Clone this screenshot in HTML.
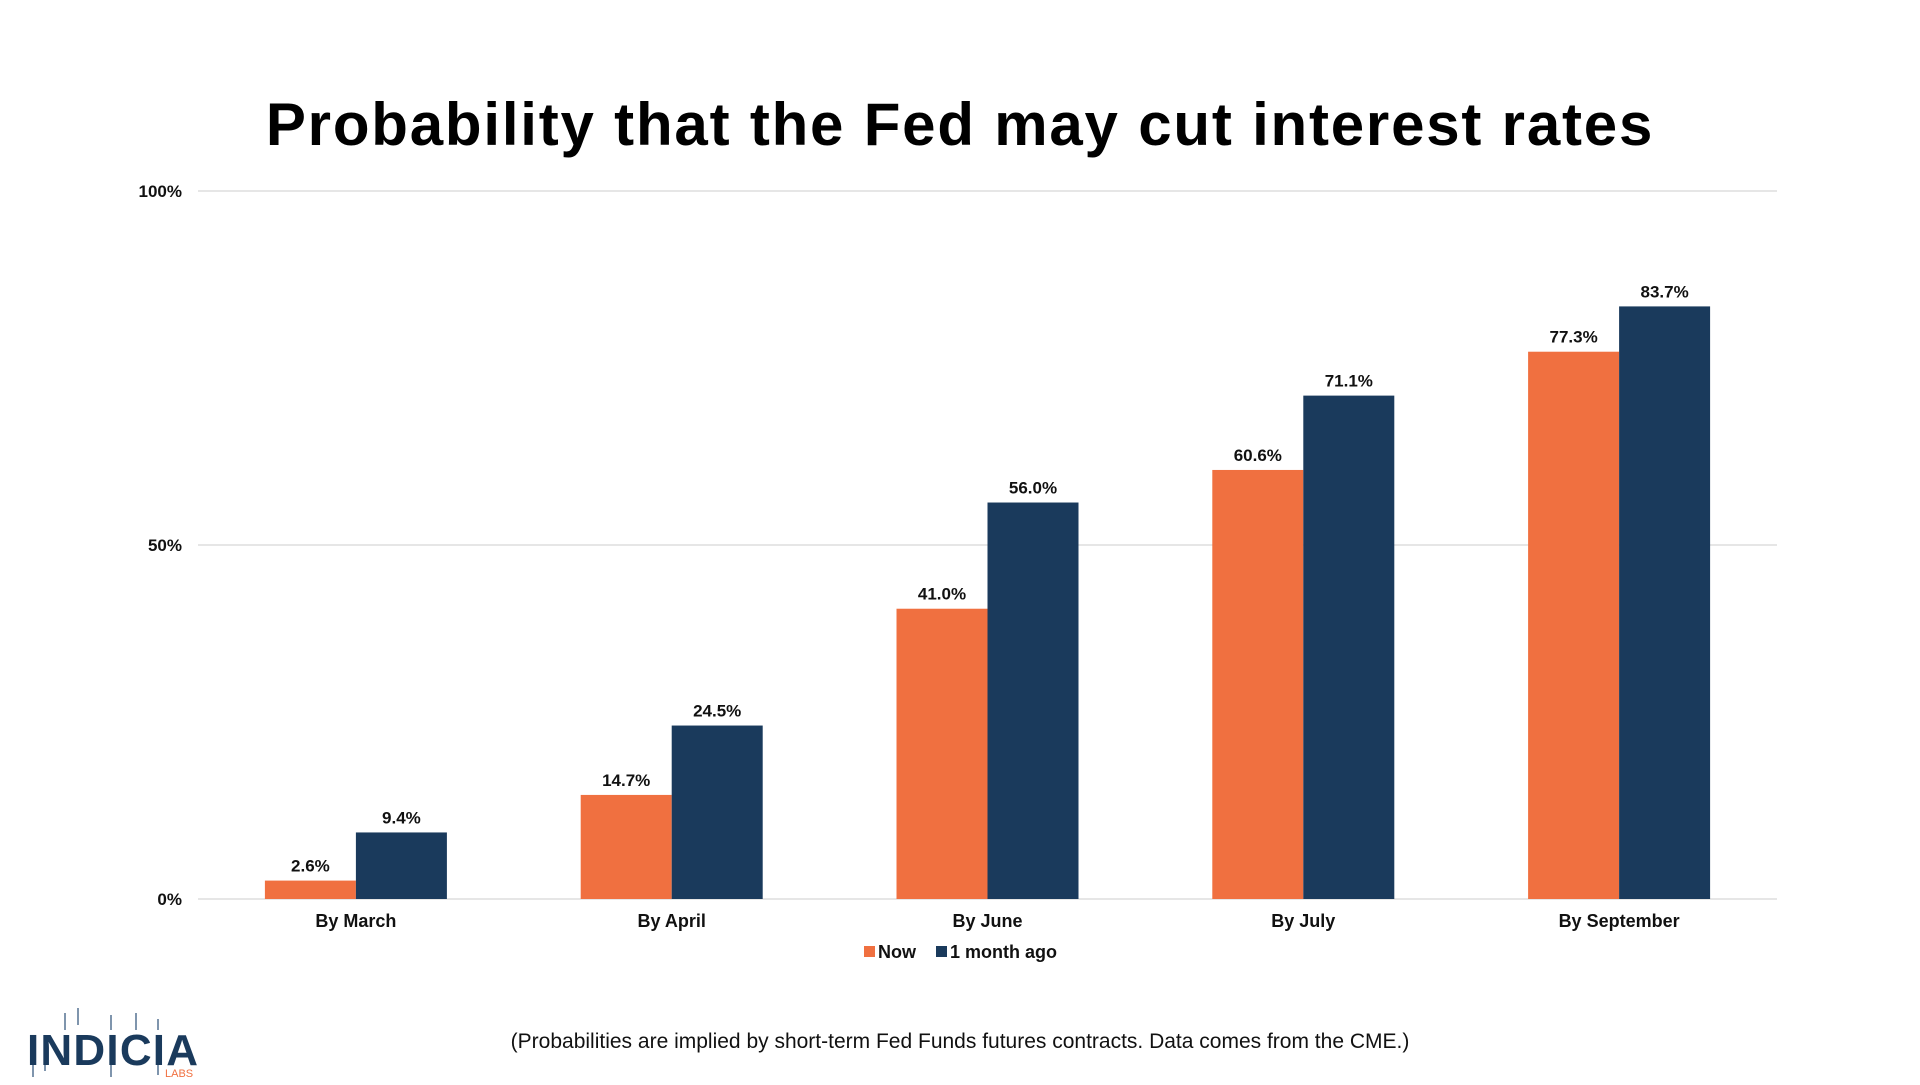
<!DOCTYPE html>
<html><head><meta charset="utf-8"><style>
body{margin:0;width:1920px;height:1080px;background:#fff;font-family:"Liberation Sans",sans-serif;overflow:hidden;position:relative}
#title{position:absolute;left:0;width:1920px;top:90px;text-align:center;font-size:60px;font-weight:bold;color:#000;letter-spacing:1.8px}
#foot{position:absolute;left:0;width:1920px;top:1030px;text-align:center;font-size:21px;color:#111}
</style></head><body>
<div id="title">Probability that the Fed may cut interest rates</div>
<svg id="chart" width="1920" height="1080" style="position:absolute;left:0;top:0"></svg>
<div id="foot">(Probabilities are implied by short-term Fed Funds futures contracts. Data comes from the CME.)</div>
<svg width="200" height="80" style="position:absolute;left:25px;top:1005px">
<g stroke="#7f95ad" stroke-width="2"><line x1="8" y1="50" x2="8" y2="72"/><line x1="20" y1="50" x2="20" y2="66"/><line x1="40" y1="8" x2="40" y2="25"/><line x1="53" y1="3" x2="53" y2="20"/><line x1="86" y1="10" x2="86" y2="25"/><line x1="86" y1="55" x2="86" y2="72"/><line x1="111" y1="8" x2="111" y2="25"/><line x1="133" y1="14" x2="133" y2="25"/><line x1="133" y1="55" x2="133" y2="70"/></g>
<text x="2" y="60" font-family="Liberation Sans" font-weight="bold" font-size="44" fill="#1a3a5c" letter-spacing="1" textLength="172">INDICIA</text>
<text x="140" y="72" font-family="Liberation Sans" font-size="11" fill="#f07040">LABS</text>
</svg>
<script>
const categories=["By March","By April","By June","By July","By September"];
const nowValues=[2.6,14.7,41.0,60.6,77.3];
const agoValues=[9.4,24.5,56.0,71.1,83.7];
const yTicks=[0,50,100];
const seriesNames=["Now","1 month ago"];
const colors=["#f07040","#1a3a5c"];
const svg=document.getElementById('chart');const NS="http://www.w3.org/2000/svg";
const L=198,R=1777,Y0=899,Y100=191;
const y=v=>Y0-(Y0-Y100)*v/100;
const band=(R-L)/categories.length;
const cx=i=>L+band*(i+0.5);
const BW=91;
function mk(t,a,txt){const e=document.createElementNS(NS,t);for(const k in a)e.setAttribute(k,a[k]);if(txt!==undefined)e.textContent=txt;svg.appendChild(e);return e;}
yTicks.forEach(t=>{
 const g=mk('line',{x1:L,x2:R,y1:y(t),y2:y(t),stroke:'#dddddd','stroke-width':1.5});
 
 
 const l=mk('text',{x:182,y:y(t)+6,'text-anchor':'end','font-size':17,'font-weight':'bold',fill:'#111'},t+'%');
 
 
});
[nowValues,agoValues].forEach((vals,s)=>{
 vals.forEach((v,i)=>{
  const x=cx(i)+(s===0?-BW:0);
  const b=mk('rect',{x:x,y:y(v),width:BW,height:Y0-y(v),fill:colors[s]});
  
  
  const t=mk('text',{x:x+BW/2,y:y(v)-9,'text-anchor':'middle','font-size':17,'font-weight':'bold',fill:'#111'},v.toFixed(1)+'%');
  
  
 });
});
categories.forEach((c,i)=>{
 const t=mk('text',{x:cx(i),y:927,'text-anchor':'middle','font-size':18,'font-weight':'bold',fill:'#111'},c);
 
 
});
const lx=[864,936];
seriesNames.forEach((n,s)=>{
 const r=mk('rect',{x:lx[s],y:946,width:11,height:11,fill:colors[s]});
 
 
 const t=mk('text',{x:lx[s]+14,y:958,'font-size':18,'font-weight':'bold',fill:'#111'},n);
 
 
});
</script>
</body></html>
